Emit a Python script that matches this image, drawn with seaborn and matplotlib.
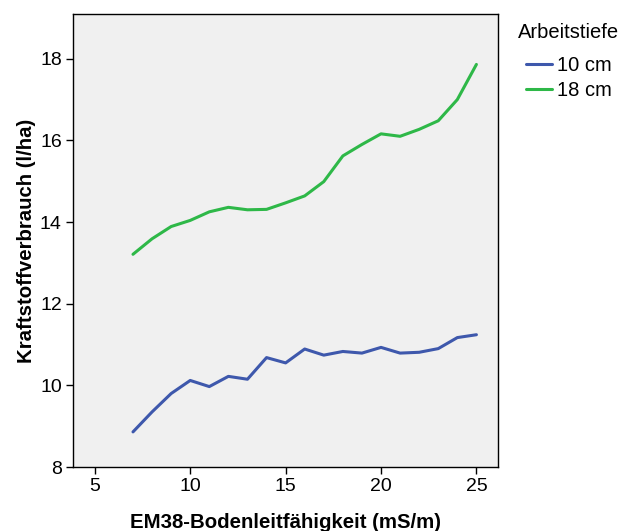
import seaborn as sns
import matplotlib.pyplot as plt
import pandas as pd

sns.set_style("ticks")
plt.rcParams['font.family'] = ['Liberation Sans', 'DejaVu Sans']
plt.rcParams['text.color'] = 'black'
plt.rcParams['axes.labelcolor'] = 'black'
plt.rcParams['xtick.color'] = 'black'
plt.rcParams['ytick.color'] = 'black'

leitfaehigkeit = list(range(7, 26))
verbrauch_10cm = [8.86, 9.35, 9.80, 10.12, 9.97, 10.22, 10.15, 10.68, 10.55, 10.89,
                  10.74, 10.83, 10.79, 10.93, 10.79, 10.81, 10.90, 11.17, 11.24]
verbrauch_18cm = [13.21, 13.59, 13.89, 14.04, 14.25, 14.36, 14.30, 14.31, 14.47, 14.64,
                  14.99, 15.62, 15.90, 16.16, 16.10, 16.27, 16.48, 17.00, 17.86]
tiefen = ['10 cm', '18 cm']

df = pd.DataFrame({
    'EM38': leitfaehigkeit * 2,
    'Verbrauch': verbrauch_10cm + verbrauch_18cm,
    'Arbeitstiefe': [tiefen[0]] * len(leitfaehigkeit) + [tiefen[1]] * len(leitfaehigkeit),
})

fig = plt.figure(figsize=(6.23, 5.31), dpi=100)
ax = fig.add_axes([0.117, 0.1205, 0.682, 0.8535])
ax.set_facecolor('#F0F0F0')
sns.lineplot(data=df, x='EM38', y='Verbrauch', hue='Arbeitstiefe',
             palette=['#3E58AC', '#2EB848'], linewidth=2.2, ax=ax)

ax.set_xlim(3.85, 26.12)
ax.set_ylim(8, 19.1)
ax.set_xticks([5, 10, 15, 20, 25])
ax.set_yticks([8, 10, 12, 14, 16, 18])
ax.tick_params(labelsize=14, length=5, width=1, color='black', pad=3)
for s in ax.spines.values():
    s.set_linewidth(1)
    s.set_color('black')
ax.set_xlabel('EM38-Bodenleitfähigkeit (mS/m)', fontsize=14.7, fontweight='bold', labelpad=13)
ax.set_ylabel('Kraftstoffverbrauch (l/ha)', fontsize=14.7, fontweight='bold', labelpad=3)

# legend: title as separate text, entries indented below it
fig.text(518 / 623, 1 - 33 / 531, 'Arbeitstiefe', fontsize=14.5, va='center', ha='left')
leg = ax.legend(loc='upper left', bbox_to_anchor=(526 / 623, 1 - 56 / 531),
                bbox_transform=fig.transFigure, frameon=False, fontsize=14.5,
                handlelength=1.3, handletextpad=0.25, borderaxespad=0, borderpad=0,
                labelspacing=0.3)

fig.savefig('out.png', dpi=100)
